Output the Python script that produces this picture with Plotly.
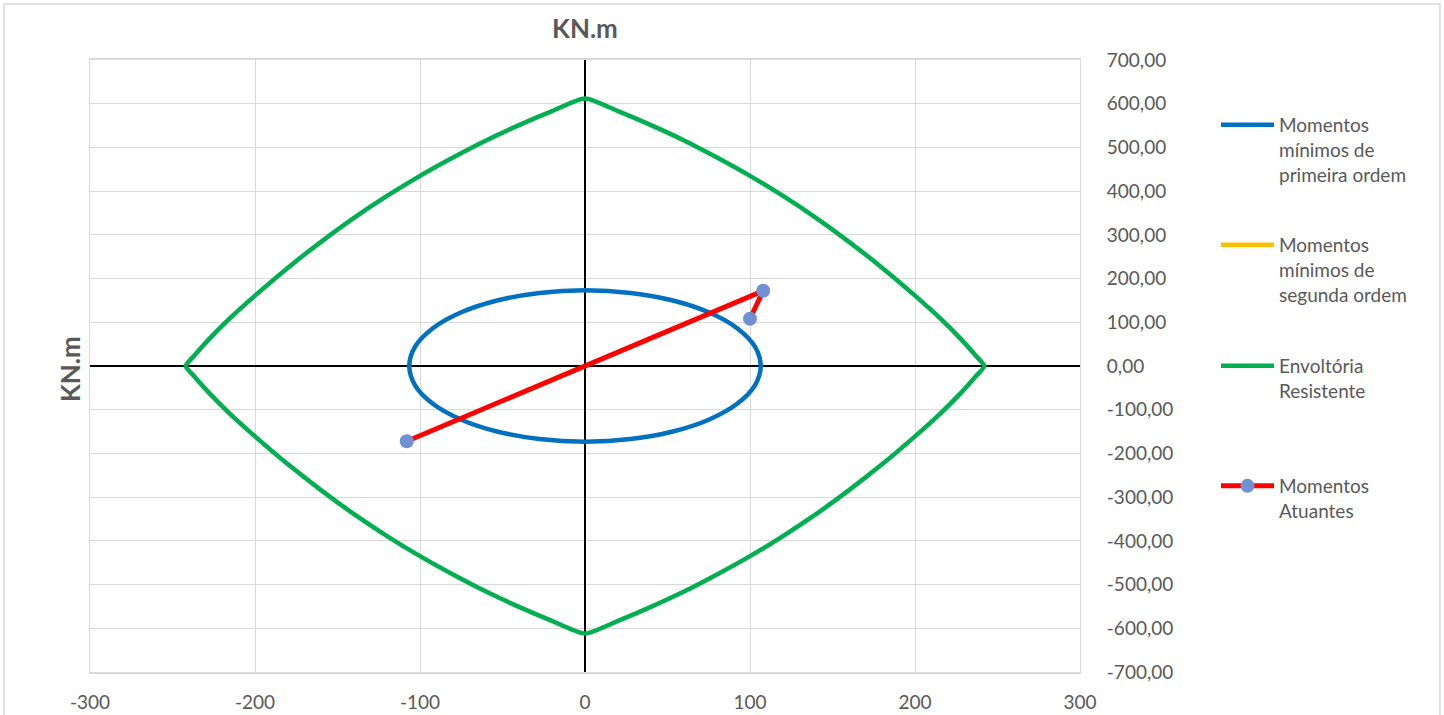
import plotly.graph_objects as go

# Minimum first-order moments (ellipse), kN.m
min1_x = [0, 27.6, 53.3, 75.3, 92.2, 102.9, 106.5, 102.9, 92.2, 75.3, 53.3, 27.6,
          0, -27.6, -53.3, -75.3, -92.2, -102.9, -106.5, -102.9, -92.2, -75.3, -53.3, -27.6, 0]
min1_y = [173, 167.1, 149.8, 122.3, 86.5, 44.8, 0, -44.8, -86.5, -122.3, -149.8, -167.1,
          -173, -167.1, -149.8, -122.3, -86.5, -44.8, 0, 44.8, 86.5, 122.3, 149.8, 167.1, 173]

# Minimum second-order moments (no points)
min2_x = [None]
min2_y = [None]

# Resisting envelope, kN.m (closed contour, clockwise from the top)
env_x = [0, 20, 40, 60, 80, 100, 120, 140, 160, 180, 200, 215, 228, 237, 242,
         237, 228, 215, 200, 180, 160, 140, 120, 100, 80, 60, 40, 20, 0,
         -20, -40, -60, -80, -100, -120, -140, -160, -180, -200, -215, -228, -237, -242,
         -237, -228, -215, -200, -180, -160, -140, -120, -100, -80, -60, -40, -20, 0]
env_y = [612, 583, 551, 516, 477, 435, 389, 339, 284, 225, 161, 110, 61, 23, 0,
         -23, -61, -110, -161, -225, -284, -339, -389, -435, -477, -516, -551, -583, -612,
         -583, -551, -516, -477, -435, -389, -339, -284, -225, -161, -110, -61, -23, 0,
         23, 61, 110, 161, 225, 284, 339, 389, 435, 477, 516, 551, 583, 612]

# Acting moments
act_x = [-108, 108, 100]
act_y = [-172, 172, 108]

x_ticks = [-300, -200, -100, 0, 100, 200, 300]
x_tick_text = ["-300", "-200", "-100", "0", "100", "200", "300"]
y_ticks = [700, 600, 500, 400, 300, 200, 100, 0, -100, -200, -300, -400, -500, -600, -700]
y_tick_text = ["700,00", "600,00", "500,00", "400,00", "300,00", "200,00", "100,00", "0,00",
               "-100,00", "-200,00", "-300,00", "-400,00", "-500,00", "-600,00", "-700,00"]

FONT = "Lato"
GREY = "#595959"

fig = go.Figure()
fig.add_trace(go.Scatter(x=min1_x, y=min1_y, mode="lines",
                         line=dict(color="#0070C0", width=4.5, shape="spline"),
                         name="Momentos<br>mínimos de<br>primeira ordem", legend="legend", showlegend=True))
fig.add_trace(go.Scatter(x=min2_x, y=min2_y, mode="lines", line=dict(color="#FFC000", width=4.5),
                         name="Momentos<br>mínimos de<br>segunda ordem", legend="legend2", showlegend=True))
fig.add_trace(go.Scatter(x=env_x, y=env_y, mode="lines",
                         line=dict(color="#00B050", width=4.5, shape="spline", smoothing=0.6),
                         name="Envoltória<br>Resistente", legend="legend3", showlegend=True))
fig.add_trace(go.Scatter(x=act_x, y=act_y, mode="lines+markers", line=dict(color="#FF0000", width=5),
                         marker=dict(color="#6F91D3", size=14),
                         name="Momentos<br>Atuantes", legend="legend4", showlegend=True))

L, R, T, B = 90, 1080, 60, 672
W, H = 1444, 715
ph = B - T
pw = R - L


def py(p):
    return (B - p) / ph


def px(p):
    return (p - L) / pw


leg_common = dict(x=px(1216), xanchor="left", yanchor="top", valign="top", itemwidth=53,
                  font=dict(family=FONT, size=19, color=GREY), bgcolor="rgba(0,0,0,0)",
                  borderwidth=0, visible=True)

fig.update_layout(
    width=W, height=H,
    margin=dict(l=L, r=W - R, t=T, b=H - B, autoexpand=False),
    paper_bgcolor="white", plot_bgcolor="white",
    separators=",.",
    showlegend=True,
    font=dict(family=FONT, color=GREY),
    title=dict(text="<b>KN.m</b>", x=0.5, xref="paper", xanchor="center",
               y=1 - 29 / H, yref="container", yanchor="middle",
               font=dict(family=FONT, size=26, color=GREY)),
    xaxis=dict(range=[-300, 300], tickvals=x_ticks, ticktext=x_tick_text,
               showgrid=True, gridcolor="#d9d9d9", gridwidth=1,
               zeroline=True, zerolinecolor="black", zerolinewidth=1.5,
               showline=True, linecolor="#d9d9d9", linewidth=1.5, mirror=True,
               ticks="", ticklabelstandoff=12,
               tickfont=dict(family=FONT, size=19, color=GREY)),
    yaxis=dict(range=[-700, 700], tickvals=y_ticks, ticktext=y_tick_text, side="right",
               showgrid=True, gridcolor="#d9d9d9", gridwidth=1,
               zeroline=True, zerolinecolor="black", zerolinewidth=1.5,
               showline=True, linecolor="#d9d9d9", linewidth=1, mirror=True,
               ticks="", ticklabelstandoff=22,
               tickfont=dict(family=FONT, size=19, color=GREY)),
    legend=dict(y=py(106), **leg_common),
    legend2=dict(y=py(226), **leg_common),
    legend3=dict(y=py(347), **leg_common),
    legend4=dict(y=py(467), **leg_common),
    annotations=[dict(text="<b>KN.m</b>", textangle=-90, x=px(70), y=py(369), xref="paper", yref="paper",
                      xanchor="center", yanchor="middle", showarrow=False,
                      font=dict(family=FONT, size=26, color=GREY))],
    shapes=[dict(type="rect", xref="paper", yref="paper", x0=px(4), x1=px(1440), y0=py(722), y1=py(4),
                 line=dict(color="#d9d9d9", width=1.5), layer="below")],
)

fig.write_html("out.html")
